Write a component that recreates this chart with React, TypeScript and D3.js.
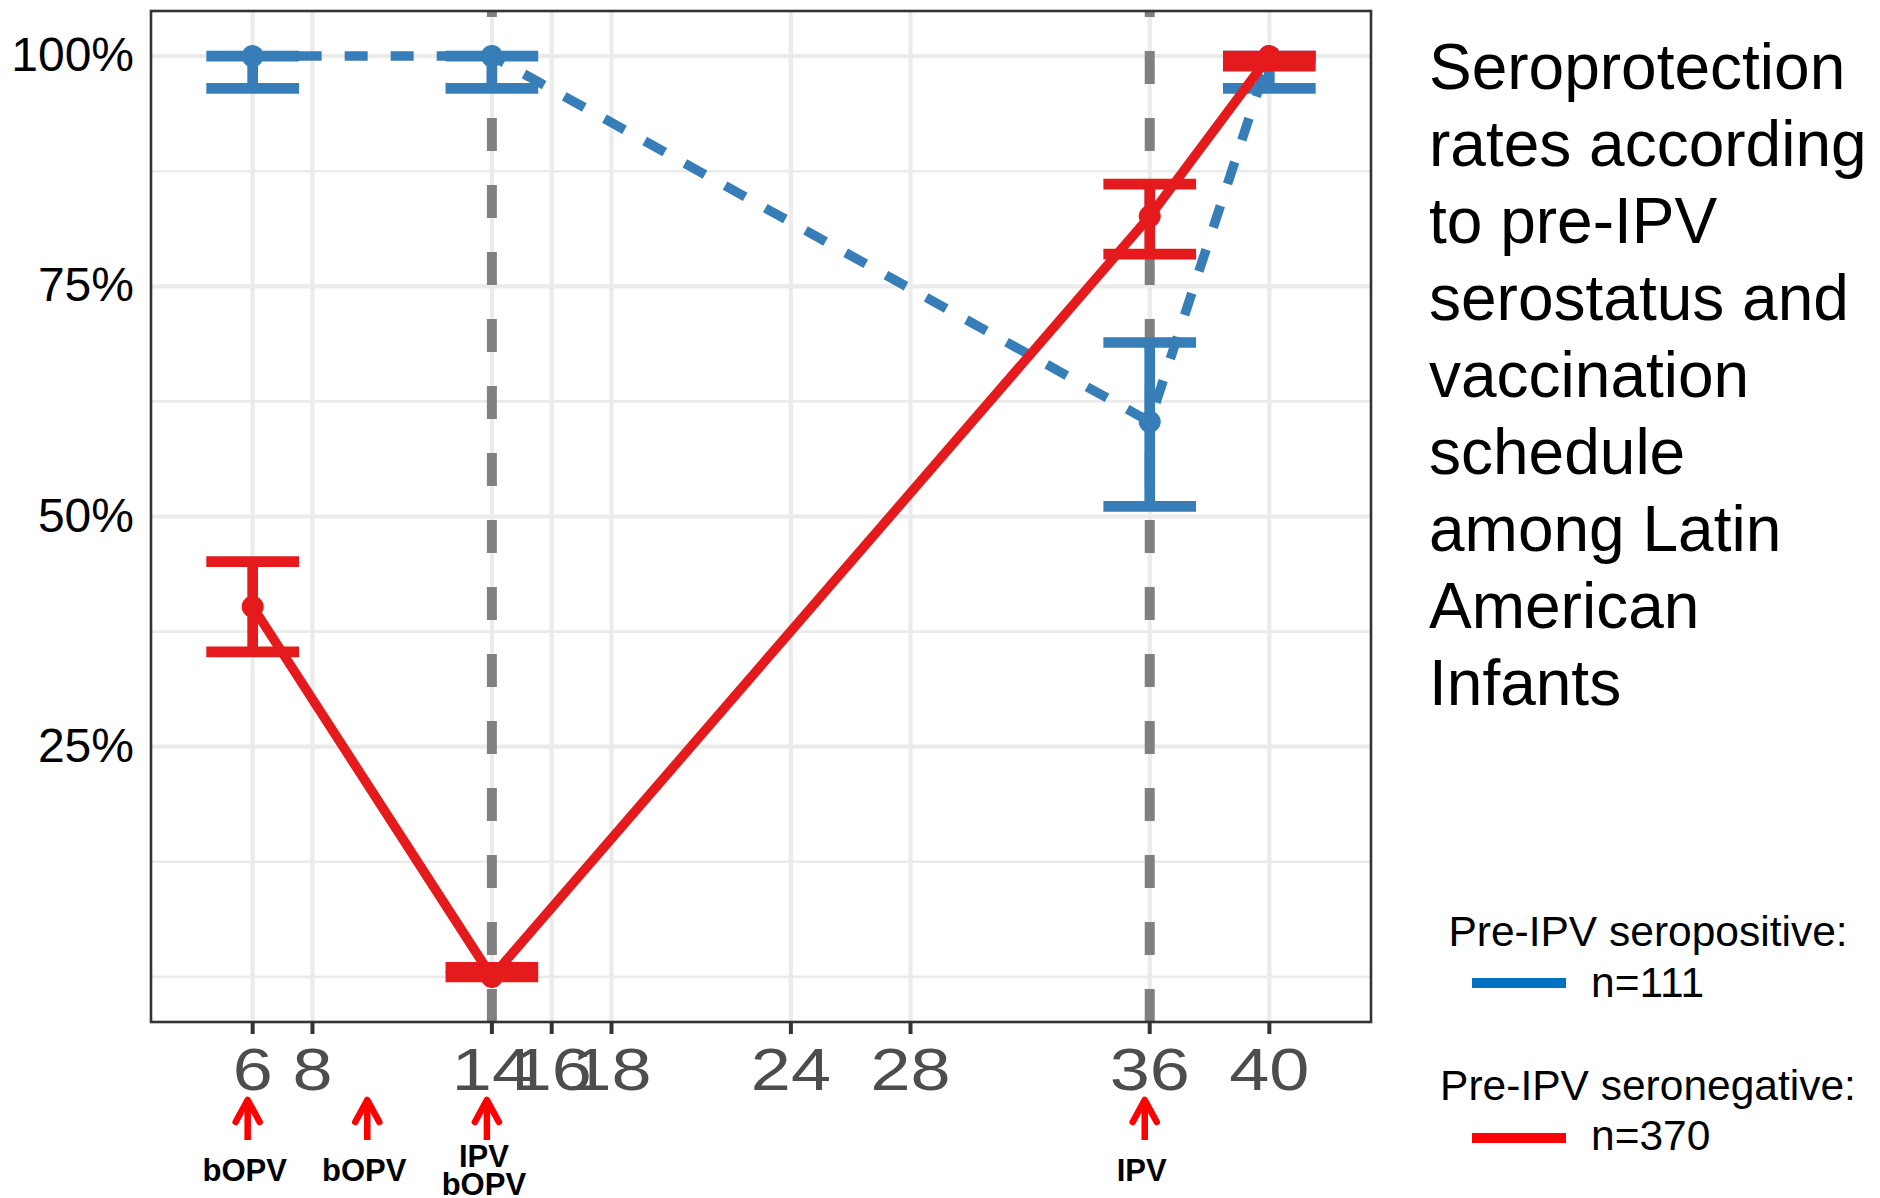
import React from 'react';
import * as d3 from 'd3';

// ---- data ----
const weeks = [6, 14, 36, 40];
const seropositiveRate = [1.0, 1.0, 0.603, 1.0];
const seropositiveLower = [0.965, 0.965, 0.511, 0.965];
const seropositiveUpper = [1.0, 1.0, 0.689, 1.0];
const seronegativeRate = [0.402, 0.0, 0.826, 1.0];
const seronegativeLower = [0.353, 0.0, 0.785, 0.989];
const seronegativeUpper = [0.451, 0.0103, 0.861, 1.0];

const xTicks = [6, 8, 14, 16, 18, 24, 28, 36, 40];
const yTicks = [0.25, 0.5, 0.75, 1];
const yTickLabels = ['25%', '50%', '75%', '100%'];
const yMinor = [0, 0.125, 0.375, 0.625, 0.875];
const ipvWeeks = [14, 36];

const vaccineWeeks = [6, 10, 14, 36];
const vaccineLabels = [['bOPV'], ['bOPV'], ['IPV', 'bOPV'], ['IPV']];

const titleLines = [
  'Seroprotection',
  'rates according',
  'to pre-IPV',
  'serostatus and',
  'vaccination',
  'schedule',
  'among Latin',
  'American',
  'Infants',
];
const legendTitles = ['Pre-IPV seropositive:', 'Pre-IPV seronegative:'];
const legendCounts = ['n=111', 'n=370'];

// ---- layout / style ----
const W = 1880;
const H = 1198;
const P = { left: 151, right: 1371, top: 11, bottom: 1022 };
const FONT = '"Liberation Sans", Arial, Helvetica, sans-serif';
const BLUE = '#377EB8';
const RED = '#E41A1C';
const ERR_HALF = 1.55; // weeks

const series = [
  { rate: seropositiveRate, lo: seropositiveLower, hi: seropositiveUpper, color: BLUE, dash: '23 23' },
  { rate: seronegativeRate, lo: seronegativeLower, hi: seronegativeUpper, color: RED, dash: undefined },
];

export default function App() {
  const x = d3.scaleLinear().domain([2.6, 43.4]).range([P.left, P.right]);
  const y = d3.scaleLinear().domain([-0.049, 1.049]).range([P.bottom, P.top]);
  const line = d3
    .line<number>()
    .x((_, i) => x(weeks[i]))
    .y((d) => y(d));

  return (
    <svg
      width={W}
      height={H}
      style={{ position: 'absolute', left: 0, top: 0, background: '#fff', fontFamily: FONT }}
    >
      <rect x={0} y={0} width={W} height={H} fill="#fff" />
      {/* grid */}
      {yMinor.map((v) => (
        <line key={'ym' + v} x1={P.left} x2={P.right} y1={y(v)} y2={y(v)} stroke="#EBEBEB" strokeWidth={2.6} />
      ))}
      {yTicks.map((v) => (
        <line key={'yM' + v} x1={P.left} x2={P.right} y1={y(v)} y2={y(v)} stroke="#EBEBEB" strokeWidth={4.2} />
      ))}
      {xTicks.map((v) => (
        <line key={'xM' + v} x1={x(v)} x2={x(v)} y1={P.top} y2={P.bottom} stroke="#EBEBEB" strokeWidth={4.2} />
      ))}
      {/* IPV reference lines */}
      {ipvWeeks.map((v) => (
        <line
          key={'v' + v}
          x1={x(v)}
          x2={x(v)}
          y1={P.bottom}
          y2={P.top}
          stroke="#808080"
          strokeWidth={10}
          strokeDasharray="33 34"
        />
      ))}
      {/* series */}
      {series.map((s, si) => (
        <g key={'s' + si}>
          <path
            d={line(s.rate) || ''}
            fill="none"
            stroke={s.color}
            strokeWidth={9.5}
            strokeDasharray={s.dash}
            strokeLinejoin="round"
          />
          {s.rate.map((r, i) => (
            <circle key={'p' + i} cx={x(weeks[i])} cy={y(r)} r={11} fill={s.color} />
          ))}
          {s.rate.map((_, i) => {
            const cx = x(weeks[i]);
            const x0 = x(weeks[i] - ERR_HALF);
            const x1 = x(weeks[i] + ERR_HALF);
            return (
              <g key={'e' + i} stroke={s.color} strokeWidth={10.7} strokeLinecap="butt">
                <line x1={cx} x2={cx} y1={y(s.lo[i])} y2={y(s.hi[i])} />
                <line x1={x0} x2={x1} y1={y(s.hi[i])} y2={y(s.hi[i])} />
                <line x1={x0} x2={x1} y1={y(s.lo[i])} y2={y(s.lo[i])} />
              </g>
            );
          })}
        </g>
      ))}
      {/* panel border */}
      <rect
        x={P.left}
        y={P.top}
        width={P.right - P.left}
        height={P.bottom - P.top}
        fill="none"
        stroke="#333333"
        strokeWidth={2.6}
      />
      {/* x ticks */}
      {xTicks.map((v) => (
        <g key={'xt' + v}>
          <line x1={x(v)} x2={x(v)} y1={P.bottom} y2={P.bottom + 12} stroke="#333333" strokeWidth={4} />
          <g transform={`translate(${x(v)},1090) scale(1.2,1)`}>
            <text textAnchor="middle" fontSize={60} fill="#4D4D4D">
              {v}
            </text>
          </g>
        </g>
      ))}
      {/* y labels */}
      {yTicks.map((v, i) => (
        <text key={'yt' + v} x={134} y={y(v) + 15} textAnchor="end" fontSize={48} fill="#000">
          {yTickLabels[i]}
        </text>
      ))}
      {/* vaccination annotations */}
      {vaccineWeeks.map((v, i) => {
        const ax = x(v) - 5;
        const lx = x(v) - 8;
        const lines = vaccineLabels[i];
        const base = lines.length > 1 ? 1167 : 1181;
        return (
          <g key={'va' + i}>
            <g stroke="#FF0000" strokeWidth={6.5} fill="none" strokeLinecap="round" strokeLinejoin="round">
              <polyline points={`${ax - 12},${1122} ${ax},${1100} ${ax + 12},${1122}`} />
              <line x1={ax} x2={ax} y1={1102} y2={1140} strokeLinecap="butt" />
            </g>
            {lines.map((t, j) => (
              <text
                key={j}
                x={lx}
                y={base + j * 28}
                textAnchor="middle"
                fontSize={31}
                fontWeight="bold"
                fill="#000"
              >
                {t}
              </text>
            ))}
          </g>
        );
      })}
      {/* title */}
      {titleLines.map((t, i) => (
        <text key={'t' + i} x={1429} y={89 + i * 77} fontSize={64} fill="#000">
          {t}
        </text>
      ))}
      {/* legend */}
      {legendTitles.map((t, i) => (
        <g key={'lg' + i}>
          <text x={1648} y={946 + i * 154} textAnchor="middle" fontSize={42.5} fill="#000">
            {t}
          </text>
          <line
            x1={1472}
            x2={1566}
            y1={983 + i * 155}
            y2={983 + i * 155}
            stroke={i === 0 ? '#0070C0' : '#FF0000'}
            strokeWidth={10}
          />
          <text x={1591} y={997 + i * 153} fontSize={42.5} fill="#000">
            {legendCounts[i]}
          </text>
        </g>
      ))}
    </svg>
  );
}
